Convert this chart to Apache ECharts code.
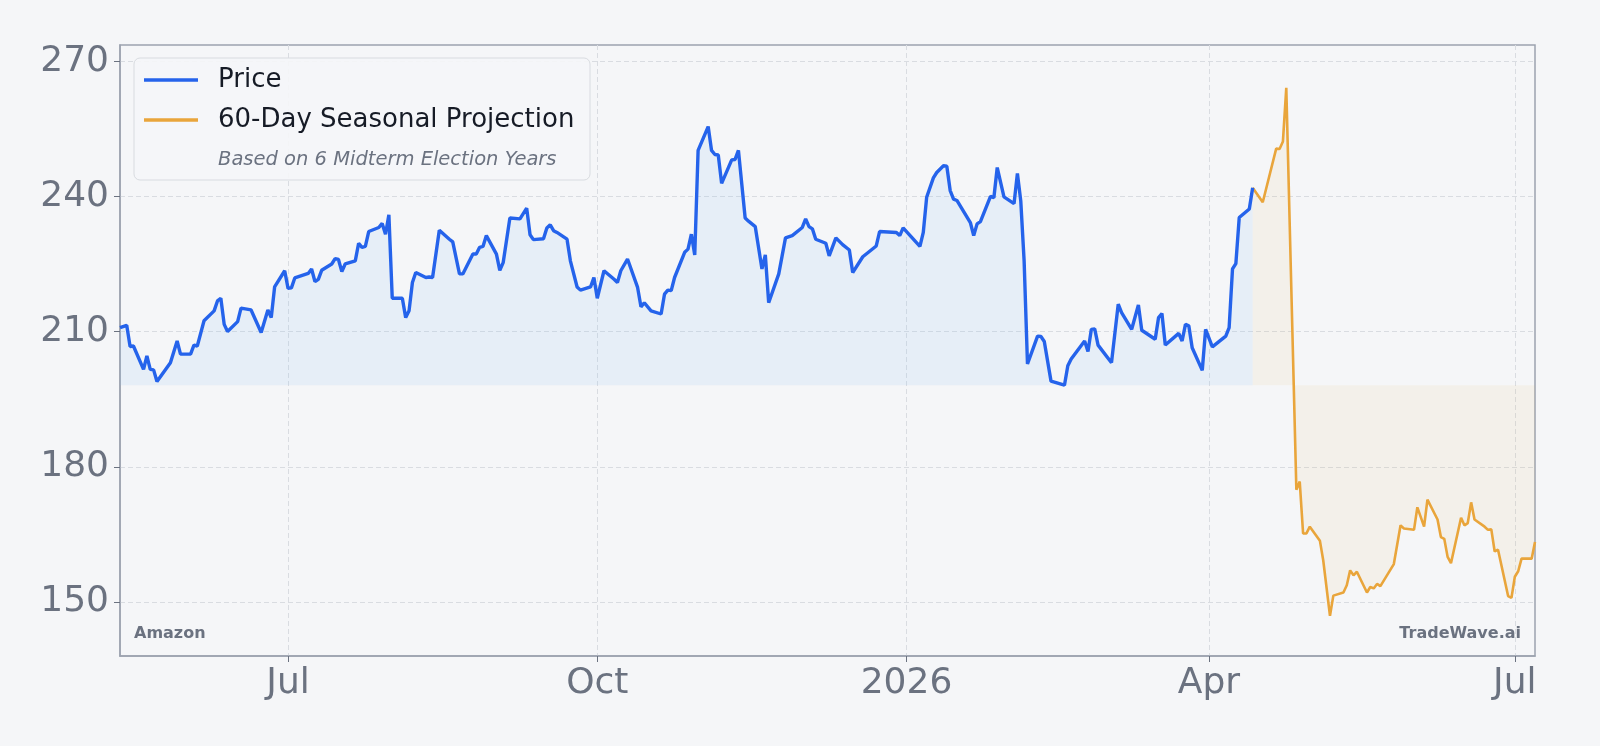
<!DOCTYPE html>
<html>
<head>
<meta charset="utf-8">
<title>Amazon seasonal projection</title>
<script src="https://cdn.jsdelivr.net/npm/echarts@6/dist/echarts.min.js"></script>
<style>
  html, body { margin: 0; padding: 0; background: #f5f6f8; }
  #main { width: 1600px; height: 746px; }
</style>
</head>
<body>
<div id="main"></div>
<script>
// daily closes
var priceDates = [
  '2025-05-12','2025-05-14','2025-05-15','2025-05-16','2025-05-19','2025-05-20','2025-05-21','2025-05-22','2025-05-23','2025-05-27',
  '2025-05-29','2025-05-30','2025-06-02','2025-06-03','2025-06-04','2025-06-06','2025-06-09','2025-06-10','2025-06-11','2025-06-12',
  '2025-06-13','2025-06-16','2025-06-17','2025-06-20','2025-06-23','2025-06-25','2025-06-26','2025-06-27','2025-06-30','2025-07-01',
  '2025-07-02','2025-07-03','2025-07-07','2025-07-08','2025-07-09','2025-07-10','2025-07-11','2025-07-14','2025-07-15','2025-07-16',
  '2025-07-17','2025-07-18','2025-07-21','2025-07-22','2025-07-23','2025-07-24','2025-07-25','2025-07-28','2025-07-29','2025-07-30',
  '2025-07-31','2025-08-01','2025-08-04','2025-08-05','2025-08-06','2025-08-07','2025-08-08','2025-08-11','2025-08-12','2025-08-13',
  '2025-08-15','2025-08-18','2025-08-19','2025-08-21','2025-08-22','2025-08-25','2025-08-26','2025-08-27','2025-08-28','2025-08-29',
  '2025-09-01','2025-09-02','2025-09-03','2025-09-05','2025-09-08','2025-09-10','2025-09-11','2025-09-12','2025-09-15','2025-09-16',
  '2025-09-17','2025-09-18','2025-09-19','2025-09-22','2025-09-23','2025-09-25','2025-09-26','2025-09-29','2025-09-30','2025-10-01',
  '2025-10-03','2025-10-06','2025-10-07','2025-10-08','2025-10-10','2025-10-13','2025-10-14','2025-10-15','2025-10-17','2025-10-20',
  '2025-10-21','2025-10-22','2025-10-23','2025-10-24','2025-10-27','2025-10-28','2025-10-29','2025-10-30','2025-10-31','2025-11-03',
  '2025-11-04','2025-11-05','2025-11-06','2025-11-07','2025-11-10','2025-11-11','2025-11-12','2025-11-14','2025-11-15','2025-11-17',
  '2025-11-19','2025-11-20','2025-11-21','2025-11-24','2025-11-26','2025-11-28','2025-12-01','2025-12-02','2025-12-03','2025-12-04',
  '2025-12-05','2025-12-08','2025-12-09','2025-12-11','2025-12-13','2025-12-15','2025-12-16','2025-12-19','2025-12-23','2025-12-24',
  '2025-12-29','2025-12-30','2025-12-31','2026-01-05','2026-01-06','2026-01-07','2026-01-09','2026-01-10','2026-01-12','2026-01-13',
  '2026-01-14','2026-01-15','2026-01-16','2026-01-20','2026-01-21','2026-01-22','2026-01-23','2026-01-26','2026-01-27','2026-01-28',
  '2026-01-30','2026-02-02','2026-02-03','2026-02-04','2026-02-05','2026-02-06','2026-02-09','2026-02-10','2026-02-11','2026-02-13',
  '2026-02-17','2026-02-18','2026-02-19','2026-02-23','2026-02-24','2026-02-25','2026-02-26','2026-02-27','2026-03-03','2026-03-05',
  '2026-03-06','2026-03-09','2026-03-11','2026-03-12','2026-03-16','2026-03-17','2026-03-18','2026-03-19','2026-03-23','2026-03-24',
  '2026-03-25','2026-03-26','2026-03-27','2026-03-30','2026-03-31','2026-04-02','2026-04-06','2026-04-07','2026-04-08','2026-04-09',
  '2026-04-10','2026-04-13','2026-04-14'
];
var priceValues = [
  210.9,211.4,206.7,206.8,201.6,204.6,201.6,201.5,198.9,203.1,
  207.9,205.0,205.0,207.0,206.8,212.4,214.6,216.8,217.4,211.6,
  210.0,212.2,215.2,214.8,209.8,214.8,213.1,219.9,223.5,219.6,
  219.7,221.9,222.9,223.9,221.1,221.6,223.6,225.0,226.2,226.0,
  223.3,225.0,225.7,229.6,228.7,228.9,232.2,233.1,234.0,231.6,
  235.9,217.4,217.4,213.1,214.6,220.9,223.1,222.0,222.1,222.0,
  232.5,230.5,229.9,222.8,222.8,227.2,227.2,228.7,228.9,231.3,
  227.2,223.6,225.3,235.2,235.0,237.4,231.5,230.4,230.6,233.0,
  233.7,232.4,232.0,230.5,225.7,219.9,219.2,219.9,222.0,217.4,
  223.5,221.6,220.9,223.5,226.1,219.8,215.5,216.4,214.6,213.9,
  218.3,219.2,219.1,222.0,227.6,228.3,231.6,227.0,250.2,255.5,
  250.2,249.3,249.2,242.9,248.1,248.2,250.2,235.2,234.5,233.3,
  223.9,227.0,216.4,222.8,230.8,231.3,233.1,235.0,233.3,232.8,
  230.5,229.6,226.8,230.8,229.3,228.1,223.1,226.6,229.0,232.2,
  232.0,231.3,233.0,228.9,232.0,239.8,244.1,245.3,246.8,246.7,
  241.3,239.4,239.1,234.2,231.3,233.9,234.4,240.0,239.7,246.4,
  239.9,238.4,245.1,239.0,225.7,202.8,209.0,208.9,207.8,199.0,
  198.1,202.4,203.9,207.9,205.6,210.5,210.6,207.0,203.1,216.1,
  214.2,210.5,215.9,210.3,208.3,213.1,214.0,207.0,209.6,207.9,
  211.6,211.3,206.4,201.4,210.5,206.6,209.0,210.9,223.9,225.1,
  235.3,237.2,241.9
];

// 60-day seasonal projection (starts at the last close)
var projDates = [
  '2026-04-14','2026-04-17','2026-04-21','2026-04-22','2026-04-23','2026-04-24','2026-04-27','2026-04-28','2026-04-29','2026-04-30',
  '2026-05-01','2026-05-04','2026-05-05','2026-05-07','2026-05-08','2026-05-11','2026-05-12','2026-05-13','2026-05-14','2026-05-15',
  '2026-05-18','2026-05-19','2026-05-20','2026-05-21','2026-05-22','2026-05-26','2026-05-28','2026-05-29','2026-06-01','2026-06-02',
  '2026-06-04','2026-06-05','2026-06-08','2026-06-09','2026-06-10','2026-06-11','2026-06-12','2026-06-15','2026-06-16','2026-06-17',
  '2026-06-18','2026-06-19','2026-06-22','2026-06-23','2026-06-24','2026-06-25','2026-06-26','2026-06-29','2026-06-30','2026-07-01',
  '2026-07-02','2026-07-03','2026-07-06','2026-07-07'
];
var projValues = [
  241.9,238.7,250.6,250.5,252.2,264.1,174.9,176.7,165.2,165.2,
  166.7,163.6,159.2,146.9,151.4,152.1,153.7,157.0,155.9,156.7,
  152.1,153.3,153.0,154.0,153.5,158.4,167.0,166.3,166.0,171.0,
  166.7,172.7,168.3,164.4,164.0,160.0,158.6,168.7,167.0,167.5,
  172.1,168.3,166.7,166.0,166.1,161.2,161.6,151.3,150.9,155.6,
  156.8,159.6,159.6,163.3
];

var yTicks = [150, 180, 210, 240, 270];
var xTickDates = ['2025-07-01', '2025-10-01', '2026-01-01', '2026-04-01', '2026-07-01'];
var xTickLabels = ['Jul', 'Oct', '2026', 'Apr', 'Jul'];

var grey = '#6b7280';
var font = 'DejaVu Sans';

function ts(d) { return +echarts.time.parse(d); }
function pairs(d, v) {
  return d.map(function (x, i) { return [ts(x), v[i]]; });
}
var xTickTimes = xTickDates.map(ts);
var baseline = Math.min.apply(null, priceValues);

var myChart = echarts.init(document.getElementById('main'));
var option = {
  backgroundColor: '#f5f6f8',
  animation: false,
  grid: {
    left: 120, right: 65, top: 45, bottom: 90,
    containLabel: false,
    outerBoundsMode: 'none',
    show: true,
    borderColor: '#9ca3af',
    borderWidth: 1.5
  },
  legend: {
    orient: 'vertical',
    left: 144, top: 67,
    padding: 0,
    itemWidth: 54, itemHeight: 3.5, itemGap: 14,
    icon: 'rect',
    z: 10,
    textStyle: { fontSize: 26, color: '#161b26', fontFamily: font, padding: [0, 0, 0, 15] },
    data: ['Price', '60-Day Seasonal Projection']
  },
  xAxis: {
    type: 'value',
    min: ts(priceDates[0]),
    max: ts(projDates[projDates.length - 1]),
    axisLine: { show: true, lineStyle: { color: '#9ca3af', width: 1.5 } },
    axisTick: { show: true, customValues: xTickTimes, length: 6, lineStyle: { color: grey } },
    axisLabel: {
      customValues: xTickTimes,
      margin: 10,
      fontSize: 36, color: grey, fontFamily: font,
      formatter: function (val) {
        var i = xTickTimes.indexOf(+val);
        return i >= 0 ? xTickLabels[i] : '';
      }
    },
    splitLine: { show: true, lineStyle: { color: '#d9dce1', type: [5, 3], width: 1 } }
  },
  yAxis: {
    type: 'value',
    min: 138, max: 273.6,
    axisLine: { show: true, lineStyle: { color: '#9ca3af', width: 1.5 } },
    axisTick: { show: true, customValues: yTicks, length: 6, lineStyle: { color: grey } },
    axisLabel: { customValues: yTicks, margin: 11, fontSize: 36, color: grey, fontFamily: font },
    splitLine: { show: true, lineStyle: { color: '#d9dce1', type: [5, 3], width: 1 } }
  },
  graphic: [
    {
      type: 'rect', z: 5,
      shape: { x: 134, y: 58, width: 456, height: 122, r: 6 },
      style: { fill: 'rgba(245,246,248,0.9)', stroke: '#d8dbe0', lineWidth: 1 }
    },
    {
      type: 'text', z: 6, x: 218, y: 159.5,
      style: { text: 'Based on 6 Midterm Election Years', fill: grey, font: 'italic 19.5px "DejaVu Sans"', verticalAlign: 'middle' }
    },
    {
      type: 'text', z: 6, x: 134, y: 634,
      style: { text: 'Amazon', fill: grey, font: 'bold 16px "DejaVu Sans"', verticalAlign: 'middle' }
    },
    {
      type: 'text', z: 6, x: 1521, y: 634,
      style: { text: 'TradeWave.ai', fill: grey, font: 'bold 16px "DejaVu Sans"', align: 'right', verticalAlign: 'middle' }
    }
  ],
  series: [
    {
      name: 'Price',
      type: 'line',
      data: pairs(priceDates, priceValues),
      symbol: 'none',
      z: 3,
      lineStyle: { color: '#2563eb', width: 3.4 },
      itemStyle: { color: '#2563eb' },
      areaStyle: { color: 'rgba(145,191,243,0.2)', origin: baseline }
    },
    {
      name: '60-Day Seasonal Projection',
      type: 'line',
      data: pairs(projDates, projValues),
      symbol: 'none',
      z: 2,
      lineStyle: { color: '#e9a53b', width: 2.6 },
      itemStyle: { color: '#e9a53b' },
      areaStyle: { color: 'rgba(232,163,58,0.1)', origin: baseline }
    }
  ]
};
myChart.setOption(option);
</script>
</body>
</html>
